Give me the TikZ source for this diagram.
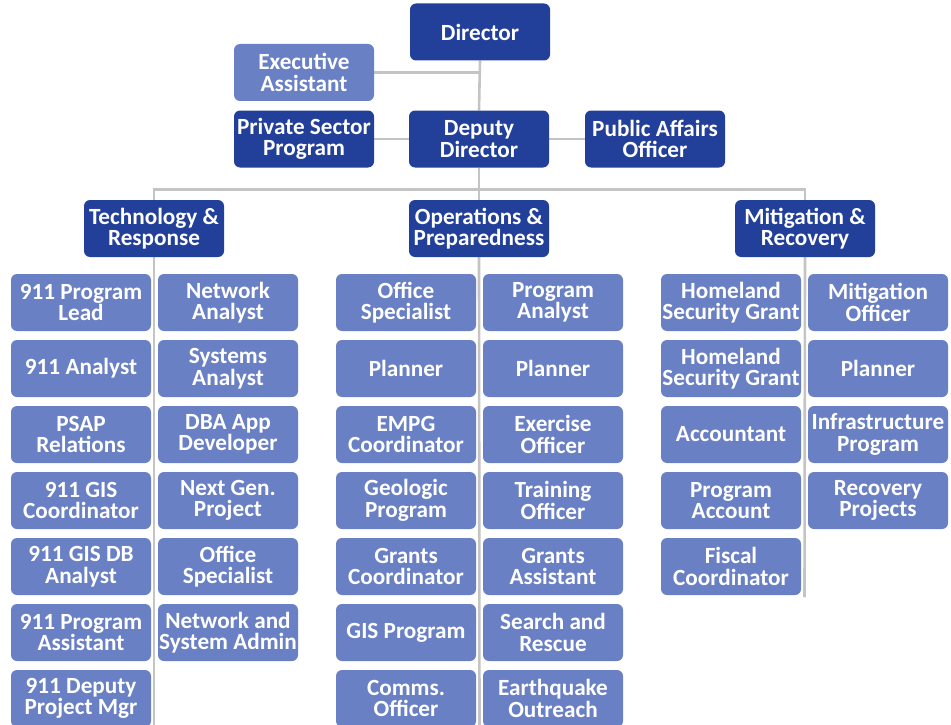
\documentclass[tikz,border=0pt]{standalone}
\usepackage{fontspec}
\setmainfont{Carlito}
\usetikzlibrary{backgrounds}
\definecolor{darkbox}{HTML}{22409A}
\definecolor{lightbox}{HTML}{6A80C4}
\definecolor{linegray}{HTML}{C4C4C4}
\tikzset{
  box/.style={rounded corners=6pt, minimum width=140pt, minimum height=57pt, inner sep=0pt,
    text=white, align=center, font=\fontsize{23.2}{21.5}\selectfont\bfseries},
  headbox/.style={box, fill=darkbox},
  staffbox/.style={box, fill=lightbox},
  conn/.style={draw=linegray, line width=2.6pt}
}
\begin{document}
\begin{tikzpicture}[x=1pt,y=-1pt]
\useasboundingbox (0,0) rectangle (951,725);
\clip (0,0) rectangle (951,725);
% top levels
\node[headbox] (dir) at (480,32) {Director};
\node[staffbox] (ea) at (304,72.5) {Executive\\Assistant};
\node[headbox] (psp) at (304,139) {Private Sector\\Program};
\node[headbox] (dd) at (479,139) {Deputy\\Director};
\node[headbox] (pao) at (655,139) {Public Affairs\\Officer};
\node[headbox] (tech) at (154,228.5) {Technology \&\\Response};
\node[headbox] (ops) at (479,228.5) {Operations \&\\Preparedness};
\node[headbox] (mit) at (805,228.5) {Mitigation \&\\Recovery};
% Technology & Response
\node[staffbox] (t11) at (81,302.5) {911 Program\\Lead};
\node[staffbox] (t12) at (81,368.5) {911 Analyst};
\node[staffbox] (t13) at (81,434.5) {PSAP\\Relations};
\node[staffbox] (t14) at (81,500.5) {911 GIS\\Coordinator};
\node[staffbox] (t15) at (81,566.5) {911 GIS DB\\Analyst};
\node[staffbox] (t16) at (81,632.5) {911 Program\\Assistant};
\node[staffbox] (t17) at (81,698.5) {911 Deputy\\Project Mgr};
\node[staffbox] (t21) at (228,302.5) {Network\\Analyst};
\node[staffbox] (t22) at (228,368.5) {Systems\\Analyst};
\node[staffbox] (t23) at (228,434.5) {DBA App\\Developer};
\node[staffbox] (t24) at (228,500.5) {Next Gen.\\Project};
\node[staffbox] (t25) at (228,566.5) {Office\\Specialist};
\node[staffbox] (t26) at (228,632.5) {Network and\\System Admin};
% Operations & Preparedness
\node[staffbox] (o11) at (406,302.5) {Office\\Specialist};
\node[staffbox] (o12) at (406,368.5) {Planner};
\node[staffbox] (o13) at (406,434.5) {EMPG\\Coordinator};
\node[staffbox] (o14) at (406,500.5) {Geologic\\Program};
\node[staffbox] (o15) at (406,566.5) {Grants\\Coordinator};
\node[staffbox] (o16) at (406,632.5) {GIS Program};
\node[staffbox] (o17) at (406,698.5) {Comms.\\Officer};
\node[staffbox] (o21) at (553,302.5) {Program\\Analyst};
\node[staffbox] (o22) at (553,368.5) {Planner};
\node[staffbox] (o23) at (553,434.5) {Exercise\\Officer};
\node[staffbox] (o24) at (553,500.5) {Training\\Officer};
\node[staffbox] (o25) at (553,566.5) {Grants\\Assistant};
\node[staffbox] (o26) at (553,632.5) {Search and\\Rescue};
\node[staffbox] (o27) at (553,698.5) {Earthquake\\Outreach};
% Mitigation & Recovery
\node[staffbox] (m11) at (731,302.5) {Homeland\\Security Grant};
\node[staffbox] (m12) at (731,368.5) {Homeland\\Security Grant};
\node[staffbox] (m13) at (731,434.5) {Accountant};
\node[staffbox] (m14) at (731,500.5) {Program\\Account};
\node[staffbox] (m15) at (731,566.5) {Fiscal\\Coordinator};
\node[staffbox] (m21) at (878,302.5) {Mitigation\\Officer};
\node[staffbox] (m22) at (878,368.5) {Planner};
\node[staffbox] (m23) at (878,434.5) {Infrastructure\\Program};
\node[staffbox] (m24) at (878,500.5) {Recovery\\Projects};
% end coordinates of column lines
\coordinate (tend) at (154,730);
\coordinate (oend) at (479.5,730);
\coordinate (mend) at (804.5,597);
\begin{scope}[on background layer]
  \fill[white] (0,0) rectangle (951,725);
  \draw[conn] (dir.south) -- (dd.north);
  \draw[conn] (ea.east) -- (ea.east -| dir.south);
  \draw[conn] (psp.east) -- (dd.west);
  \draw[conn] (dd.east) -- (pao.west);
  \draw[conn] (dd.south) -- (ops.north);
  \draw[conn] (tech.north) -- ++(0,-10.5) -| (mit.north);
  \draw[conn] (tech.south) -- (tend);
  \draw[conn] (ops.south) -- (oend);
  \draw[conn] (mit.south) -- (mend);
\end{scope}
\end{tikzpicture}
\end{document}
